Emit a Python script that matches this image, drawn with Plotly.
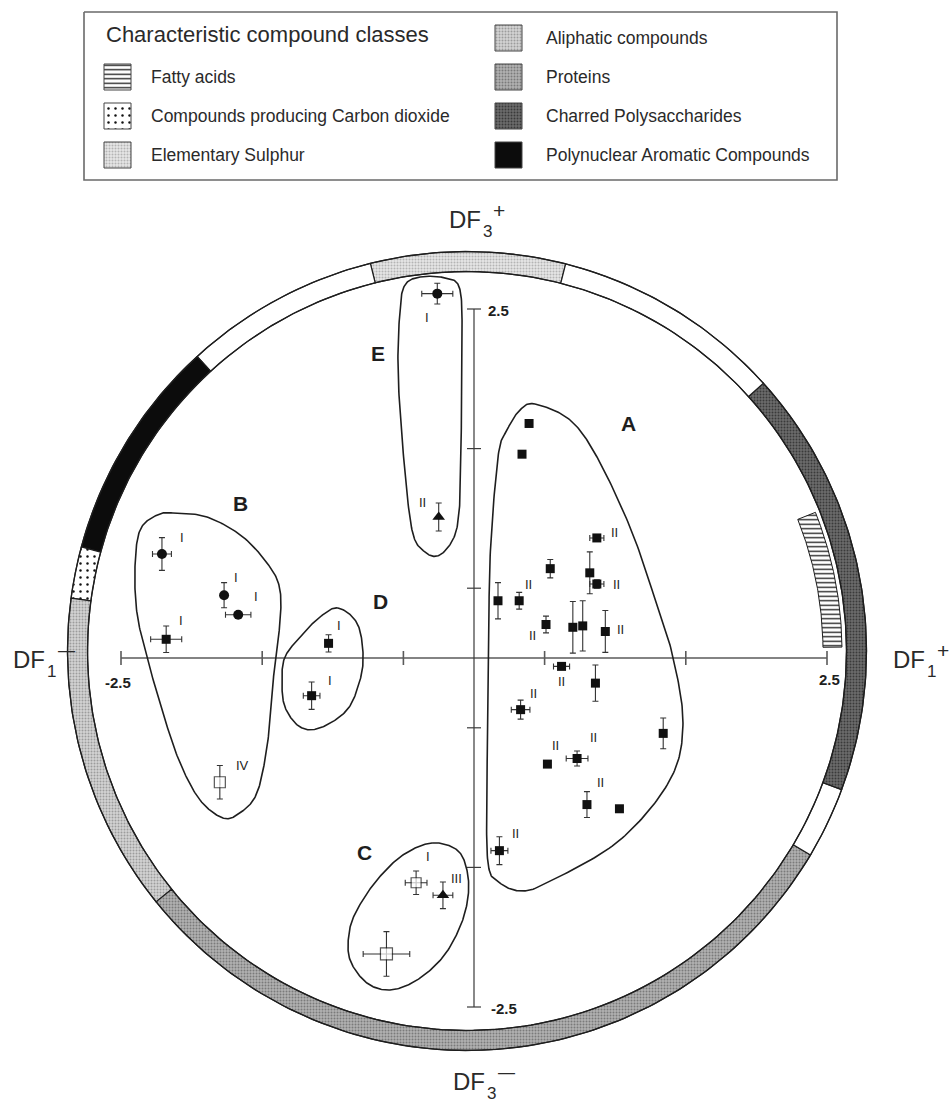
import numpy as np
import plotly.graph_objects as go

W, H = 951, 1102

# pixel <-> discriminant-score mapping of the plotting frame
PX_PER_UNIT_X = 141.2
PX_PER_UNIT_Y = 139.6
ORIGIN_PX = (474, 658)


def at_px(xp, yp):
    """Layout helper: position given in page pixels -> data units."""
    return (xp - ORIGIN_PX[0]) / PX_PER_UNIT_X, (ORIGIN_PX[1] - yp) / PX_PER_UNIT_Y


# ---------------------------------------------------------------- data
# Group A (filled squares)
A_DF1 = [0.39, 0.34, 0.87, 0.54, 0.82, 0.87, 0.17, 0.32, 0.51, 0.70, 0.77,
         0.93, 0.62, 0.86, 0.33, 1.34, 0.52, 0.73, 0.80, 1.03, 0.18]
A_DF3 = [1.68, 1.46, 0.86, 0.64, 0.61, 0.53, 0.41, 0.41, 0.24, 0.22, 0.23,
         0.19, -0.06, -0.18, -0.37, -0.54, -0.76, -0.72, -1.05, -1.08, -1.38]
A_ERR1 = [0, 0, 0.05, 0, 0, 0.05, 0, 0, 0, 0, 0,
          0, 0.057, 0, 0.066, 0, 0, 0.077, 0, 0, 0.06]
A_ERR3 = [0, 0, 0, 0.066, 0.15, 0.03, 0.13, 0.06, 0.06, 0.185, 0.18,
          0.15, 0, 0.13, 0.068, 0.11, 0, 0.054, 0.093, 0, 0.10]
A_LABEL = ["", "", "II", "", "", "II", "", "II", "II", "", "",
           "II", "II", "", "II", "", "II", "II", "II", "", "II"]

# Group B
B_CIRCLE_DF1 = [-2.21, -1.77, -1.67]
B_CIRCLE_DF3 = [0.745, 0.45, 0.31]
B_CIRCLE_ERR1 = [0.067, 0, 0.09]
B_CIRCLE_ERR3 = [0.117, 0.09, 0]
B_CIRCLE_LABEL = ["I", "I", "I"]
B_SQUARE_DF1 = [-2.18]
B_SQUARE_DF3 = [0.134]
B_SQUARE_ERR1 = [0.11]
B_SQUARE_ERR3 = [0.095]
B_SQUARE_LABEL = ["I"]
B_OPEN_DF1 = [-1.80]
B_OPEN_DF3 = [-0.89]
B_OPEN_ERR1 = [0]
B_OPEN_ERR3 = [0.12]
B_OPEN_LABEL = ["IV"]

# Group C
C_OPEN_DF1 = [-0.41, -0.62]
C_OPEN_DF3 = [-1.61, -2.12]
C_OPEN_ERR1 = [0.077, 0.165]
C_OPEN_ERR3 = [0.084, 0.16]
C_OPEN_LABEL = ["I", ""]
C_TRI_DF1 = [-0.22]
C_TRI_DF3 = [-1.70]
C_TRI_ERR1 = [0.07]
C_TRI_ERR3 = [0.095]
C_TRI_LABEL = ["III"]

# Group D
D_SQUARE_DF1 = [-1.03, -1.15]
D_SQUARE_DF3 = [0.105, -0.27]
D_SQUARE_ERR1 = [0, 0.059]
D_SQUARE_ERR3 = [0.062, 0.098]
D_SQUARE_LABEL = ["I", "I"]

# Group E
E_CIRCLE_DF1 = [-0.26]
E_CIRCLE_DF3 = [2.61]
E_CIRCLE_ERR1 = [0.11]
E_CIRCLE_ERR3 = [0.074]
E_CIRCLE_LABEL = ["I"]
E_TRI_DF1 = [-0.25]
E_TRI_DF3 = [1.01]
E_TRI_ERR1 = [0]
E_TRI_ERR3 = [0.10]
E_TRI_LABEL = ["II"]

AXIS_TICKS = [-2.5, -1.5, -0.5, 0.5, 1.5, 2.5]

# compound classes on the outer ring (angles in degrees, counter-clockwise from DF1+)
RING_CLASS = ["Elementary Sulphur", None, "Polynuclear Aromatic Compounds",
              "Compounds producing Carbon dioxide", "Aliphatic compounds",
              "Proteins", None, "Charred Polysaccharides", None]
RING_START = [75.7, 104.0, 132.5, 164.9, 172.4, 218.9, 329.3, 339.7, 402.1]
RING_END = [104.0, 132.5, 164.9, 172.4, 218.9, 329.3, 339.7, 402.1, 435.7]
FATTY_START, FATTY_END = 0.6, 21.7

# group envelopes (DF1, DF3)
OUTLINE_A = [(0.432, 1.819), (0.680, 1.705), (0.871, 1.440), (1.105, 0.938),
             (1.268, 0.466), (1.402, 0.036), (1.480, -0.466), (1.388, -0.874),
             (1.034, -1.304), (0.559, -1.590), (0.347, -1.669), (0.184, -1.612),
             (0.099, -1.468), (0.092, -0.874), (0.106, -0.014), (0.113, 0.702),
             (0.170, 1.440), (0.234, 1.633), (0.326, 1.777)]
OUTLINE_B = [(-2.132, 1.039), (-1.891, 1.010), (-1.636, 0.867), (-1.445, 0.652),
             (-1.374, 0.487), (-1.374, 0.251), (-1.409, -0.014), (-1.431, -0.279),
             (-1.466, -0.638), (-1.537, -0.967), (-1.657, -1.110), (-1.778, -1.146),
             (-1.941, -1.017), (-2.082, -0.752), (-2.203, -0.394), (-2.316, 0.007),
             (-2.387, 0.322), (-2.401, 0.652), (-2.365, 0.917), (-2.245, 1.024)]
OUTLINE_C = [(-0.297, -1.325), (-0.120, -1.375), (-0.050, -1.519), (-0.042, -1.712),
             (-0.099, -1.927), (-0.220, -2.142), (-0.404, -2.307), (-0.595, -2.378),
             (-0.758, -2.328), (-0.878, -2.163), (-0.885, -1.970), (-0.829, -1.805),
             (-0.687, -1.590), (-0.503, -1.411)]
OUTLINE_D = [(-0.963, 0.358), (-0.829, 0.251), (-0.786, 0.036), (-0.807, -0.158),
             (-0.899, -0.372), (-1.091, -0.501), (-1.232, -0.494), (-1.339, -0.351),
             (-1.360, -0.158), (-1.339, 0.007), (-1.232, 0.150), (-1.091, 0.294)]
OUTLINE_E = [(-0.382, 2.729), (-0.205, 2.722), (-0.099, 2.636), (-0.085, 2.206),
             (-0.092, 1.490), (-0.099, 1.132), (-0.135, 0.881), (-0.241, 0.738),
             (-0.347, 0.759), (-0.439, 0.917), (-0.503, 1.490), (-0.538, 2.063),
             (-0.524, 2.493), (-0.489, 2.672)]
GROUP_NAMES = ["A", "B", "C", "D", "E"]
GROUP_LABEL_POS = [(1.091, 1.683), (-1.657, 1.110), (-0.779, -1.390),
                   (-0.659, 0.408), (-0.680, 2.178)]

LEGEND_LEFT = ["Fatty acids", "Compounds producing Carbon dioxide", "Elementary Sulphur"]
LEGEND_RIGHT = ["Aliphatic compounds", "Proteins", "Charred Polysaccharides",
                "Polynuclear Aromatic Compounds"]

# ---------------------------------------------------------------- styles
FONT = "Liberation Sans, Arial, Helvetica, sans-serif"
INK = "#1e1e1e"
CLASS_STYLE = {
    "Fatty acids": dict(bg="#ffffff", shape="-", fg="#222222", size=4.5, solidity=0.3),
    "Compounds producing Carbon dioxide": dict(bg="#ffffff", shape=".", fg="#111111", size=7, solidity=0.1),
    "Elementary Sulphur": dict(bg="#e6e6e6", shape=".", fg="#b4b4b4", size=3, solidity=0.35),
    "Aliphatic compounds": dict(bg="#d4d4d4", shape=".", fg="#9c9c9c", size=3, solidity=0.35),
    "Proteins": dict(bg="#b2b2b2", shape=".", fg="#7a7a7a", size=3, solidity=0.35),
    "Charred Polysaccharides": dict(bg="#6c6c6c", shape=".", fg="#3a3a3a", size=3, solidity=0.35),
    "Polynuclear Aromatic Compounds": dict(bg="#0c0c0c", shape="", fg="#0c0c0c", size=3, solidity=0.3),
    None: dict(bg="#ffffff", shape="", fg="#ffffff", size=3, solidity=0.3),
}

fig = go.Figure()


def add_patch(xs, ys, cls, line_width=1.2, line_color=INK):
    st = CLASS_STYLE[cls]
    kw = dict(x=xs, y=ys, mode="lines", fill="toself", fillcolor=st["bg"],
              line=dict(color=line_color, width=line_width),
              hoverinfo="skip", showlegend=False)
    if st["shape"]:
        kw["fillpattern"] = dict(shape=st["shape"], fgcolor=st["fg"], bgcolor=st["bg"],
                                 size=st["size"], solidity=st["solidity"], fillmode="replace")
    fig.add_trace(go.Scatter(**kw))


# ---------------------------------------------------------------- ring
RING_CENTER = at_px(467, 651)
R_OUT, R_IN = 399.5, 379.5  # px


def arc(r_px, a0, a1, n=90):
    t = np.radians(np.linspace(a0, a1, n))
    return (RING_CENTER[0] + r_px / PX_PER_UNIT_X * np.cos(t),
            RING_CENTER[1] + r_px / PX_PER_UNIT_Y * np.sin(t))


def annulus_patch(r0, r1, a0, a1):
    xo, yo = arc(r1, a0, a1)
    xi, yi = arc(r0, a1, a0)
    xs = np.concatenate([xo, xi, xo[:1]])
    ys = np.concatenate([yo, yi, yo[:1]])
    return xs, ys


for cls, a0, a1 in zip(RING_CLASS, RING_START, RING_END):
    xs, ys = annulus_patch(R_IN, R_OUT, a0, a1)
    add_patch(xs, ys, cls)

for r in (R_OUT, R_IN):
    xs, ys = arc(r, 0, 360, 400)
    fig.add_trace(go.Scatter(x=xs, y=ys, mode="lines", line=dict(color=INK, width=1.3),
                             hoverinfo="skip", showlegend=False))

xs, ys = annulus_patch(356, 375, FATTY_START, FATTY_END)
add_patch(xs, ys, "Fatty acids", line_width=1.0)

# ---------------------------------------------------------------- axes
tick_dx = 7 / PX_PER_UNIT_X
tick_dy = 7 / PX_PER_UNIT_Y
hx, hy, vx, vy = [-2.5, 2.5, None], [0, 0, None], [0, 0, None], [-2.5, 2.5, None]
for t in AXIS_TICKS:
    hx += [t, t, None]
    hy += [-tick_dy, tick_dy, None]
    vx += [-tick_dx, tick_dx, None]
    vy += [t, t, None]
fig.add_trace(go.Scatter(x=hx, y=hy, mode="lines", line=dict(color="#5a5a5a", width=1.6),
                         hoverinfo="skip", showlegend=False))
fig.add_trace(go.Scatter(x=vx, y=vy, mode="lines", line=dict(color="#3a3a3a", width=1.2),
                         hoverinfo="skip", showlegend=False))


# ---------------------------------------------------------------- envelopes
def closed_spline(pts, n=24):
    p = np.asarray(pts, dtype=float)
    N = len(p)
    t = np.linspace(0, 1, n, endpoint=False)[:, None]
    segs = []
    for i in range(N):
        p0, p1, p2, p3 = p[(i - 1) % N], p[i], p[(i + 1) % N], p[(i + 2) % N]
        segs.append(0.5 * (2 * p1 + (-p0 + p2) * t + (2 * p0 - 5 * p1 + 4 * p2 - p3) * t ** 2
                           + (-p0 + 3 * p1 - 3 * p2 + p3) * t ** 3))
    segs.append(p[:1])
    c = np.vstack(segs)
    return c[:, 0], c[:, 1]


for outline in (OUTLINE_A, OUTLINE_B, OUTLINE_C, OUTLINE_D, OUTLINE_E):
    xs, ys = closed_spline(outline)
    fig.add_trace(go.Scatter(x=xs, y=ys, mode="lines", line=dict(color=INK, width=1.6),
                             hoverinfo="skip", showlegend=False))

# ---------------------------------------------------------------- samples
ERR_STYLE = dict(type="data", color="#333333", thickness=1.1, width=3)


def add_samples(df1, df3, e1, e3, symbol, size, fill="#111111", line_w=0):
    fig.add_trace(go.Scatter(
        x=df1, y=df3, mode="markers",
        marker=dict(symbol=symbol, size=size, color=fill,
                    line=dict(color="#111111", width=line_w)),
        error_x=dict(array=e1, visible=True, **ERR_STYLE),
        error_y=dict(array=e3, visible=True, **ERR_STYLE),
        hoverinfo="skip", showlegend=False))


add_samples(A_DF1, A_DF3, A_ERR1, A_ERR3, "square", 9)
add_samples(B_SQUARE_DF1 + D_SQUARE_DF1, B_SQUARE_DF3 + D_SQUARE_DF3,
            B_SQUARE_ERR1 + D_SQUARE_ERR1, B_SQUARE_ERR3 + D_SQUARE_ERR3, "square", 9)
add_samples(B_CIRCLE_DF1 + E_CIRCLE_DF1, B_CIRCLE_DF3 + E_CIRCLE_DF3,
            B_CIRCLE_ERR1 + E_CIRCLE_ERR1, B_CIRCLE_ERR3 + E_CIRCLE_ERR3, "circle", 10)
add_samples(E_TRI_DF1 + C_TRI_DF1, E_TRI_DF3 + C_TRI_DF3,
            E_TRI_ERR1 + C_TRI_ERR1, E_TRI_ERR3 + C_TRI_ERR3, "triangle-up", 11)
add_samples(B_OPEN_DF1 + C_OPEN_DF1, B_OPEN_DF3 + C_OPEN_DF3,
            B_OPEN_ERR1 + C_OPEN_ERR1, B_OPEN_ERR3 + C_OPEN_ERR3, "square",
            [11, 10, 12], fill="#ffffff", line_w=1.2)

# ---------------------------------------------------------------- annotations
ann = []


def text_at(x, y, text, size, color="#2a2a2a", weight="normal", xanchor="center",
            xshift=0, yshift=0):
    ann.append(dict(x=x, y=y, text=text, showarrow=False, xanchor=xanchor,
                    xshift=xshift, yshift=yshift,
                    font=dict(family=FONT, size=size, color=color, weight=weight)))


# Roman-numeral tags beside each sample, offsets in px (right, down)
A_TAG_OFFSET = [(0, 0), (0, 0), (18, -5), (0, 0), (0, 0), (20, 0), (0, 0), (9, -16),
                (-14, 11), (0, 0), (0, 0), (15, -2), (0, 15), (0, 0), (13, -16), (0, 0),
                (8, -19), (16, -21), (14, -22), (0, 0), (16, -17)]
tag_sets = [
    (A_DF1, A_DF3, A_LABEL, A_TAG_OFFSET),
    (B_CIRCLE_DF1, B_CIRCLE_DF3, B_CIRCLE_LABEL, [(20, -17), (12, -18), (18, -18)]),
    (B_SQUARE_DF1, B_SQUARE_DF3, B_SQUARE_LABEL, [(15, -19)]),
    (B_OPEN_DF1, B_OPEN_DF3, B_OPEN_LABEL, [(23, -17)]),
    (D_SQUARE_DF1, D_SQUARE_DF3, D_SQUARE_LABEL, [(10, -18), (18, -15)]),
    (E_CIRCLE_DF1, E_CIRCLE_DF3, E_CIRCLE_LABEL, [(-10, 24)]),
    (E_TRI_DF1, E_TRI_DF3, E_TRI_LABEL, [(-16, -15)]),
    (C_OPEN_DF1, C_OPEN_DF3, C_OPEN_LABEL, [(12, -26), (0, 0)]),
    (C_TRI_DF1, C_TRI_DF3, C_TRI_LABEL, [(14, -17)]),
]
for xs, ys, labels, offs in tag_sets:
    for x, y, lab, (dx, dy) in zip(xs, ys, labels, offs):
        if lab:
            text_at(x, y, lab, 13, color="#222222", xshift=dx, yshift=-dy)

for name, (gx, gy) in zip(GROUP_NAMES, GROUP_LABEL_POS):
    text_at(gx, gy, name, 21, color=INK, weight="bold")

# axis end values
text_at(-2.5, 0, "-2.5", 15, INK, "bold", xshift=-3, yshift=-24)
text_at(2.5, 0, "2.5", 15, INK, "bold", xshift=2, yshift=-21)
text_at(0, 2.5, "2.5", 15, INK, "bold", xshift=24, yshift=-1)
text_at(0, -2.5, "-2.5", 15, INK, "bold", xshift=30, yshift=-1)

# discriminant function poles: name, index (lowered), sign (raised)
DF_POLES = [("3", "+", (465, 219)), ("3", "\u2014", (469, 1081)),
            ("1", "\u2014", (29, 659)), ("1", "+", (909, 659))]
for idx, sign, (xp, yp) in DF_POLES:
    x, y = at_px(xp, yp)
    text_at(x, y, "DF", 24)
    x, y = at_px(xp + 22, yp + 12)
    text_at(x, y, idx, 17)
    if sign == "+":
        x, y = at_px(xp + 34, yp - 9)
        text_at(x, y, sign, 21)
    else:
        x, y = at_px(xp + 37, yp - 9)
        text_at(x, y, sign, 17)

# ---------------------------------------------------------------- key
bx0, by0 = at_px(84, 12)
bx1, by1 = at_px(837, 180)
fig.add_trace(go.Scatter(x=[bx0, bx1, bx1, bx0, bx0], y=[by0, by0, by1, by1, by0],
                         mode="lines", line=dict(color="#6a6a6a", width=1.6),
                         hoverinfo="skip", showlegend=False))
tx, ty = at_px(104, 34)
text_at(tx, ty, "Characteristic compound classes", 22, xanchor="left")


def key_entry(cls, sx, text_x, cy):
    x0, y0 = at_px(sx, cy - 13)
    x1, y1 = at_px(sx + 27, cy + 13)
    add_patch([x0, x1, x1, x0, x0], [y0, y0, y1, y1, y0], cls, line_width=1.0,
              line_color="#444444")
    lx, ly = at_px(text_x, cy)
    text_at(lx, ly, cls, 17.5, xanchor="left")


for cls, cy in zip(LEGEND_LEFT, [77, 116, 155]):
    key_entry(cls, 104, 149, cy)
for cls, cy in zip(LEGEND_RIGHT, [38, 77, 116, 155]):
    key_entry(cls, 495, 544, cy)

# ---------------------------------------------------------------- layout
x_lo, y_hi = at_px(0, 0)
x_hi, y_lo = at_px(W, H)
fig.update_layout(
    width=W, height=H, margin=dict(l=0, r=0, t=0, b=0),
    paper_bgcolor="white", plot_bgcolor="white",
    xaxis=dict(range=[x_lo, x_hi], visible=False, fixedrange=True),
    yaxis=dict(range=[y_lo, y_hi], visible=False, fixedrange=True),
    annotations=ann, showlegend=False,
)

fig.write_html("out.html", post_script="document.body.style.margin='0';")
